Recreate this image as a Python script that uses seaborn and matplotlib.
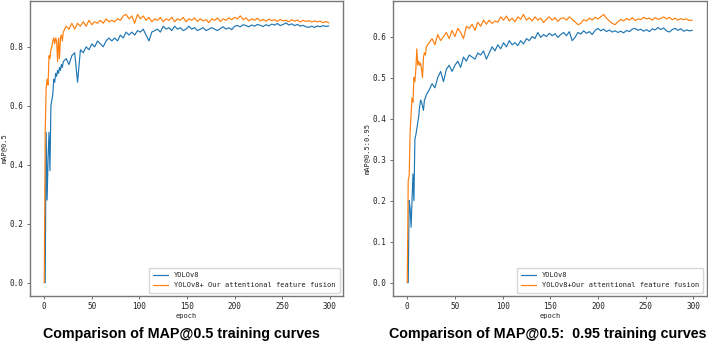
import numpy as np
import pandas as pd
import matplotlib
matplotlib.use("Agg")
import matplotlib.pyplot as plt
import seaborn as sns

epochs = [0, 1, 2, 3, 4, 5, 6, 7, 8, 9, 10, 11, 12, 13, 14, 15, 16, 17, 18, 19, 20,
          23, 26, 29, 32, 35, 38, 41, 44, 47, 50, 53, 56, 59, 62, 65, 68, 71, 74, 77,
          80, 83, 86, 89, 92, 95, 98, 101, 104, 107, 110, 113, 116, 119, 122, 125, 128,
          131, 134, 137, 140, 143, 146, 149, 152, 155, 158, 161, 164, 167, 170, 173, 176,
          179, 182, 185, 188, 191, 194, 197, 200, 203, 206, 209, 212, 215, 218, 221, 224,
          227, 230, 233, 236, 239, 242, 245, 248, 251, 254, 257, 260, 263, 266, 269, 272,
          275, 278, 281, 284, 287, 290, 293, 296, 299]

# mAP@0.5
map50_yolo = [0.0, 0.0, 0.51, 0.28, 0.42, 0.51, 0.38, 0.60, 0.62, 0.64, 0.69, 0.68, 0.71, 0.70,
              0.72, 0.71, 0.73, 0.72, 0.74, 0.73, 0.75,
              0.76, 0.74, 0.77, 0.78, 0.68, 0.79, 0.78, 0.80, 0.79, 0.81, 0.80, 0.82, 0.81,
              0.80, 0.82, 0.83, 0.82, 0.83, 0.82, 0.84, 0.83, 0.85, 0.84, 0.85, 0.84, 0.855,
              0.85, 0.86, 0.84, 0.82, 0.85, 0.855, 0.86, 0.85, 0.87, 0.86, 0.865, 0.855, 0.87,
              0.86, 0.865, 0.855, 0.86, 0.87, 0.86, 0.865, 0.855, 0.86, 0.865, 0.855, 0.86,
              0.865, 0.86, 0.855, 0.862, 0.868, 0.86, 0.865, 0.858, 0.87, 0.872, 0.868, 0.875,
              0.872, 0.868, 0.874, 0.87, 0.876, 0.873, 0.869, 0.875, 0.871, 0.877, 0.874,
              0.879, 0.872, 0.876, 0.881, 0.874, 0.878, 0.872, 0.876, 0.87, 0.873, 0.868,
              0.866, 0.87, 0.866, 0.871, 0.868, 0.872, 0.869, 0.871]
map50_ours = [0.0, 0.51, 0.66, 0.69, 0.67, 0.77, 0.76, 0.79, 0.80, 0.82, 0.83, 0.81, 0.83, 0.82,
              0.75, 0.83, 0.76, 0.83, 0.84, 0.82, 0.85,
              0.87, 0.86, 0.88, 0.86, 0.88, 0.87, 0.885, 0.87, 0.89, 0.875, 0.885, 0.88, 0.89,
              0.88, 0.895, 0.885, 0.89, 0.885, 0.895, 0.89, 0.905, 0.91, 0.895, 0.905, 0.88,
              0.91, 0.895, 0.905, 0.89, 0.90, 0.885, 0.895, 0.89, 0.90, 0.885, 0.895, 0.89,
              0.90, 0.885, 0.895, 0.89, 0.90, 0.885, 0.895, 0.89, 0.898, 0.886, 0.895, 0.888,
              0.892, 0.882, 0.895, 0.89, 0.898, 0.886, 0.895, 0.89, 0.898, 0.892, 0.90, 0.895,
              0.905, 0.892, 0.898, 0.888, 0.895, 0.89, 0.897, 0.888, 0.893, 0.887, 0.894,
              0.889, 0.892, 0.886, 0.893, 0.888, 0.89, 0.885, 0.892, 0.887, 0.891, 0.884,
              0.89, 0.886, 0.889, 0.884, 0.888, 0.885, 0.887, 0.882, 0.886, 0.881]

# mAP@0.5:0.95
map5095_yolo = [0.0, 0.0, 0.20, 0.18, 0.135, 0.20, 0.265, 0.20, 0.35, 0.36, 0.375, 0.39, 0.405,
                0.43, 0.445, 0.44, 0.43, 0.42, 0.445, 0.45, 0.458,
                0.47, 0.485, 0.475, 0.50, 0.515, 0.49, 0.52, 0.53, 0.515, 0.53, 0.54, 0.525,
                0.55, 0.54, 0.555, 0.55, 0.545, 0.56, 0.555, 0.565, 0.545, 0.56, 0.575, 0.565,
                0.58, 0.57, 0.585, 0.575, 0.59, 0.58, 0.585, 0.578, 0.59, 0.582, 0.595, 0.59,
                0.60, 0.595, 0.61, 0.598, 0.605, 0.60, 0.608, 0.602, 0.607, 0.598, 0.605, 0.61,
                0.602, 0.612, 0.59, 0.598, 0.61, 0.606, 0.614, 0.608, 0.612, 0.605, 0.615, 0.62,
                0.614, 0.618, 0.612, 0.616, 0.611, 0.614, 0.61, 0.613, 0.609, 0.615, 0.612,
                0.618, 0.62, 0.615, 0.618, 0.613, 0.617, 0.612, 0.619, 0.616, 0.622, 0.617,
                0.621, 0.614, 0.611, 0.617, 0.62, 0.615, 0.619, 0.613, 0.616, 0.614, 0.615]
map5095_ours = [0.0, 0.25, 0.26, 0.365, 0.41, 0.45, 0.44, 0.50, 0.49, 0.52, 0.57, 0.53, 0.54,
                0.53, 0.535, 0.52, 0.50, 0.55, 0.56, 0.555, 0.575,
                0.585, 0.595, 0.58, 0.605, 0.59, 0.60, 0.61, 0.595, 0.615, 0.60, 0.62, 0.61,
                0.595, 0.625, 0.62, 0.63, 0.615, 0.635, 0.625, 0.64, 0.63, 0.64, 0.632, 0.638,
                0.635, 0.648, 0.64, 0.65, 0.638, 0.645, 0.636, 0.648, 0.642, 0.654, 0.64, 0.646,
                0.638, 0.648, 0.64, 0.645, 0.634, 0.642, 0.648, 0.64, 0.646, 0.637, 0.644, 0.646,
                0.64, 0.648, 0.642, 0.636, 0.629, 0.632, 0.641, 0.638, 0.645, 0.64, 0.647, 0.643,
                0.648, 0.654, 0.645, 0.638, 0.632, 0.629, 0.636, 0.642, 0.638, 0.644, 0.64,
                0.646, 0.639, 0.643, 0.641, 0.647, 0.643, 0.645, 0.64, 0.646, 0.642, 0.644,
                0.648, 0.643, 0.647, 0.641, 0.645, 0.64, 0.644, 0.641, 0.643, 0.639, 0.64]

labels_left = ["YOLOv8", "YOLOv8+ Our attentional feature fusion"]
labels_right = ["YOLOv8", "YOLOv8+Our attentional feature fusion"]
captions = ["Comparison of MAP@0.5 training curves",
            "Comparison of MAP@0.5:  0.95 training curves"]

sns.set_style("ticks")
plt.rcParams['font.family'] = ['DejaVu Sans Mono']
plt.rcParams['text.color'] = '#222222'
plt.rcParams['axes.labelcolor'] = '#222222'
plt.rcParams['xtick.labelcolor'] = '#222222'
plt.rcParams['ytick.labelcolor'] = '#222222'

fig = plt.figure(figsize=(7.08, 3.44), dpi=100)
ax1 = fig.add_axes([0.0424, 0.1395, 0.4421, 0.8576])
ax2 = fig.add_axes([0.5551, 0.1395, 0.4428, 0.8576])

panels = [
    (ax1, map50_yolo, map50_ours, labels_left, "mAP@0.5"),
    (ax2, map5095_yolo, map5095_ours, labels_right, "mAP@0.5:0.95"),
]
for ax, yolo, ours, labs, ylab in panels:
    df = pd.DataFrame({"epoch": epochs, "yolo": yolo, "ours": ours})
    sns.lineplot(data=df, x="epoch", y="yolo", ax=ax, color="#1f77b4", linewidth=0.85, label=labs[0])
    sns.lineplot(data=df, x="epoch", y="ours", ax=ax, color="#ff7f0e", linewidth=0.85, label=labs[1])
    ax.set_xticks([0, 50, 100, 150, 200, 250, 300])
    ax.set_xlabel("epoch", fontsize=5, labelpad=1)
    ax.set_ylabel(ylab, fontsize=5, labelpad=2)
    ax.tick_params(labelsize=5.5, length=2.5, width=0.6, pad=2, color="#555555")
    for sp in ax.spines.values():
        sp.set_visible(True)
        sp.set_color("#777777")
        sp.set_linewidth(1.0)
    ax.legend(loc="lower right", fontsize=5, handlelength=2.2, frameon=True,
              borderpad=0.6, labelspacing=0.6)

fig.text(0.256, 0.029, captions[0], ha="center", va="center", fontsize=10.3,
         fontweight="bold", family="Liberation Sans", color="black")
fig.text(0.773, 0.029, captions[1], ha="center", va="center", fontsize=10.3,
         fontweight="bold", family="Liberation Sans", color="black")

fig.savefig("out.png", dpi=100)
